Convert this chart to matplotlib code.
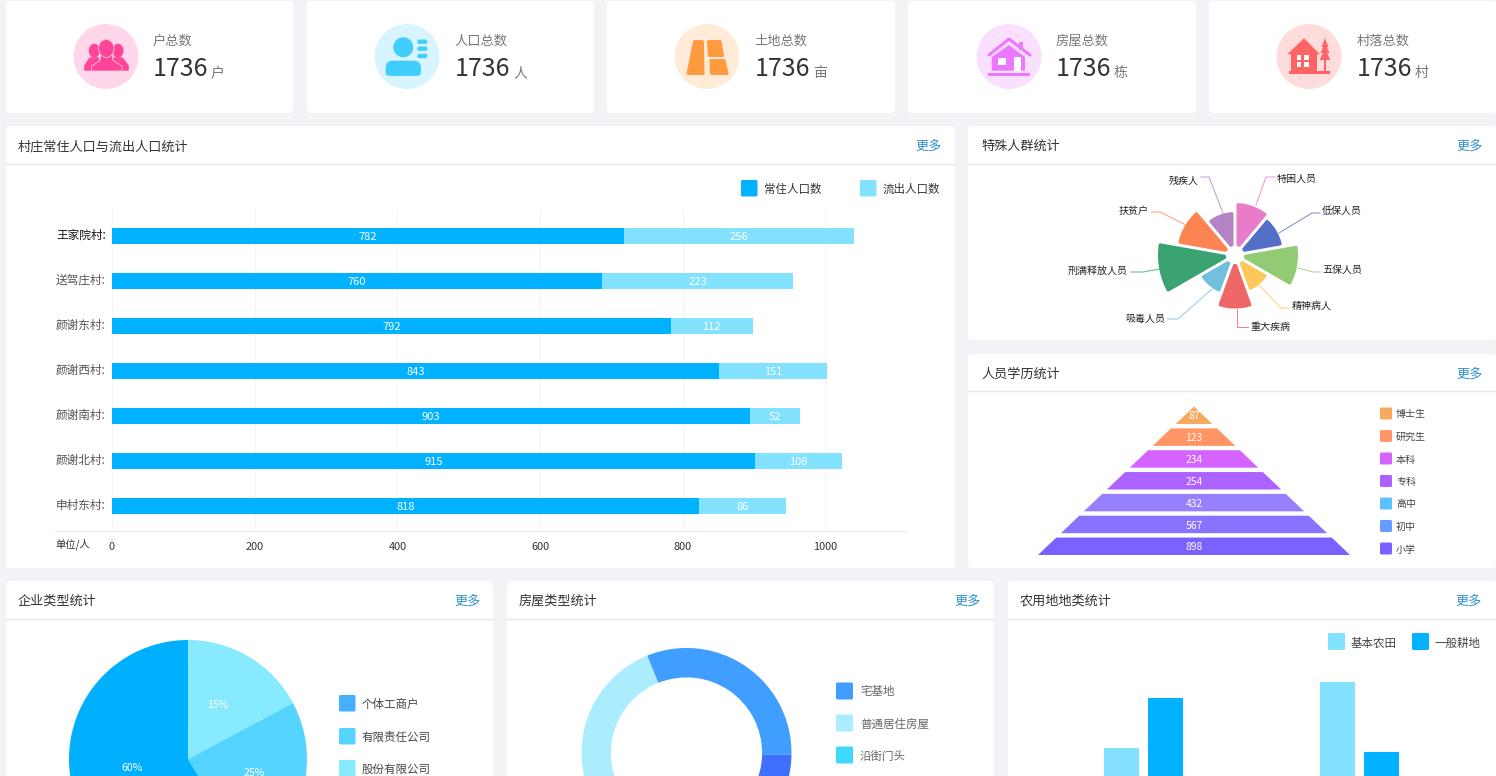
import numpy as np
import matplotlib
matplotlib.use("Agg")
import matplotlib.pyplot as plt
from matplotlib.patches import FancyBboxPatch, Ellipse, Polygon, Rectangle, Circle

plt.rcParams['font.family'] = ['Noto Sans CJK SC', 'DejaVu Sans']

W, H = 1496, 776
PX = 72 / 100  # points per pixel

# ---- data ----
kpi_labels = ['户总数', '人口总数', '土地总数', '房屋总数', '村落总数']
kpi_values = ['1736', '1736', '1736', '1736', '1736']
kpi_units = ['户', '人', '亩', '栋', '村']

villages = ['王家院村:', '送驾庄村:', '颜谢东村:', '颜谢西村:', '颜谢南村:', '颜谢北村:', '申村东村:']
resident_len = [718, 687, 783, 851, 894, 901, 823]
outflow_len = [322, 268, 115, 151, 70, 122, 122]
resident_text = ['782', '760', '792', '843', '903', '915', '818']
outflow_text = ['256', '223', '112', '151', '52', '108', '86']
bar_ticks = [0, 200, 400, 600, 800, 1000]

rose_names = ['特困人员', '低保人员', '五保人员', '精神病人', '重大疾病', '吸毒人员', '刑满释放人员', '扶贫户', '残疾人']
rose_values = [52, 48, 63, 38, 53.5, 40, 77, 58, 43]
rose_colors = ['#E87CC8', '#5470C6', '#91CC75', '#FCC85C', '#EE6666', '#73C0DE', '#3BA272', '#FC8452', '#B483C4']

edu_names = ['博士生', '研究生', '本科', '专科', '高中', '初中', '小学']
edu_values = [87, 123, 234, 254, 432, 567, 898]
edu_tier_colors = ['#F7A95F', '#FF9464', '#D463FF', '#AC62FF', '#9680FF', '#8872FF', '#7B61FF']
edu_legend_colors = ['#F7A95F', '#FF9464', '#D463FF', '#AC62FF', '#5CBFFF', '#649CFF', '#7862FF']

ent_names = ['个体工商户', '有限责任公司', '股份有限公司']
ent_values = [17.2, 24.2, 58.6]
ent_text = ['15%', '25%', '60%']
ent_colors = ['#87EAFF', '#55D4FF', '#00B0FF']
ent_legend_colors = ['#44B0FF', '#55D4FF', '#87EAFF']

house_names = ['宅基地', '普通居住房屋', '沿街门头']
house_values = [113, 55, 60, 132]
house_colors = ['#3F9EFF', '#3F6FFF', '#3FD8FF', '#ABECFF']
house_legend_colors = ['#3F9EFF', '#ABECFF', '#3FD8FF']

farm_names = ['基本农田', '一般耕地']
farm_basic = [88, 154]
farm_general = [138, 84]

# ---- figure and pixel overlay ----
fig = plt.figure(figsize=(W / 100, H / 100), dpi=100, facecolor='#F1F3F6')


def px_axes(x0, y0, x1, y1, **kw):
    return fig.add_axes([x0 / W, 1 - y1 / H, (x1 - x0) / W, (y1 - y0) / H], **kw)


ov = px_axes(0, 0, W, H)
ov.set_xlim(0, W)
ov.set_ylim(H, 0)
ov.axis('off')


def T(x, y, s, **kw):
    """Overlay text, nudged down 1px so the optical centre matches."""
    kw.setdefault('va', 'center')
    return ov.text(x, y + 1, s, **kw)


def card(x0, y0, x1, y1):
    ov.add_patch(FancyBboxPatch((x0 + 4, y0 + 4), x1 - x0 - 8, y1 - y0 - 8,
                                boxstyle='round,pad=4,rounding_size=4', fc='white', ec='none'))


def panel(x0, y0, x1, y1, header_y, title, tx, more_right):
    card(x0, y0, x1, y1)
    ov.plot([x0, x1], [header_y, header_y], color='#E6E8EB', lw=1.4 * PX)
    ty = (y0 + header_y) / 2 + 0.5
    T(tx, ty, title, fontsize=9.45, color='#333333', ha='left')
    T(more_right, ty, '更多', fontsize=9.45, color='#3090D0', ha='right')


def swatch(x, y, s, color):
    ov.add_patch(FancyBboxPatch((x + 1.5, y + 1.5), s - 3, s - 3,
                                boxstyle='round,pad=1.5,rounding_size=1.5', fc=color, ec='none'))


# ---- KPI cards ----
kpi_boxes = [(6, 293), (307, 594), (607, 895), (908, 1196), (1209, 1496)]
kpi_cx = [106, 407, 707, 1009, 1309]
kpi_tx = [153, 454, 754, 1056, 1357]
kpi_vx = [153, 455, 755, 1056, 1357]
kpi_ux = [211, 513, 813, 1114, 1415]
kpi_bg = ['#FFD6EA', '#D8F5FF', '#FFEBD8', '#FAE0FF', '#FFDCDC']
for (x0, x1), cx, tx, vx, ux, bg, lab, val, unit in zip(kpi_boxes, kpi_cx, kpi_tx, kpi_vx, kpi_ux, kpi_bg,
                                                        kpi_labels, kpi_values, kpi_units):
    card(x0, 1, x1, 113)
    ov.add_patch(Circle((cx, 56.5), 32.5, fc=bg, ec='none'))
    T(tx, 40.5, lab, fontsize=9.5, color='#777777')
    T(vx, 68.5, val, fontsize=18, color='#333333')
    T(ux, 72, unit, fontsize=10, color='#777777')

# icon 1: people
pink = '#FF4499'
for hx, pts in [(94.3, [(90, 58), (98, 58), (101, 70), (85, 70), (85, 65.5)]),
                (118, [(114, 58), (122, 58), (128, 65.5), (128, 70), (112, 70)])]:
    ov.add_patch(Ellipse((hx, 50.7), 11, 14, fc=pink, ec='none'))
    ov.add_patch(Polygon(pts, fc=pink, ec=pink, lw=1.5 * PX, joinstyle='round'))
ov.add_patch(Polygon([(100.5, 55), (112.5, 55), (113, 60.5), (122, 66), (122, 71), (91.5, 71), (91.5, 66), (100, 60.5)],
                     fc=pink, ec='#FFC4DE', lw=0.8 * PX, joinstyle='round'))
ov.add_patch(Ellipse((106.3, 48.5), 15.5, 18, fc=pink, ec='#FFC4DE', lw=0.8 * PX))

# icon 2: person with lines
blue = '#42CDFF'
ov.add_patch(Circle((403.3, 47.3), 10, fc=blue, ec='none'))
ov.add_patch(FancyBboxPatch((392.7, 67.7), 21.3, 1, boxstyle='round,pad=7,rounding_size=7', fc=blue, ec='none'))
ov.add_patch(FancyBboxPatch((388, 70), 30.5, 3.5, boxstyle='round,pad=2.2,rounding_size=2.2', fc=blue, ec='none'))
for ly in (41.7, 48.7, 56):
    ov.add_patch(FancyBboxPatch((419.3, ly - 0.2), 6, 0.4, boxstyle='round,pad=2,rounding_size=2', fc=blue, ec='none'))

# icon 3: land blocks
orange = '#FF9A3E'
for pts in ([(694.5, 41.5), (702.5, 41.5), (703, 73.5), (688, 73.5)],
            [(708.5, 41.5), (720, 41.5), (722.5, 55.5), (709.5, 55.5)],
            [(711, 60.5), (724, 60.5), (727, 73.5), (711.5, 73.5)]):
    ov.add_patch(Polygon(pts, fc=orange, ec=orange, lw=3 * PX, joinstyle='round'))

# icon 4: house
mag = '#EE77FF'
ov.add_patch(Polygon([(1009, 45), (1025, 57), (1025, 70.7), (991.7, 70.7), (991.7, 57)], fc=mag, ec='none'))
ov.plot([989, 1009, 1030], [55, 39, 55], color=mag, lw=3 * PX, solid_joinstyle='round', solid_capstyle='round')
ov.add_patch(Rectangle((1019.3, 41.7), 4, 8, fc=mag, ec='none'))
ov.add_patch(Rectangle((997.7, 58.3), 8, 6.7, fc='white', ec='none'))
ov.add_patch(Rectangle((1014.3, 57.3), 6.4, 13.4, fc='white', ec='none'))
ov.add_patch(Rectangle((988.3, 73), 41.7, 3, fc=mag, ec='none'))

# icon 5: village house and tree
red = '#FF6366'
ov.add_patch(Polygon([(1304, 38.3), (1320, 54.3), (1287.3, 54.3)], fc=red, ec='none'))
ov.add_patch(Rectangle((1290.7, 54), 26, 16.5, fc=red, ec='none'))
for wx in (1296.7, 1304.3):
    for wy in (55.2, 61.7):
        ov.add_patch(Rectangle((wx, wy), 4.8, 5, fc='white', ec='none'))
ov.add_patch(Rectangle((1289.3, 71), 40.7, 3.4, fc=red, ec='none'))
for ytop, ybot, hw in [(38.3, 47, 3.5), (43, 53, 4.5), (49, 60, 5.4)]:
    ov.add_patch(Polygon([(1325, ytop), (1325 + hw, ybot), (1325 - hw, ybot)], fc=red, ec='none'))
ov.add_patch(Rectangle((1324, 58), 2, 14, fc=red, ec='none'))

# ---- panels ----
panel(6, 126, 955, 568, 164, '村庄常住人口与流出人口统计', 18, 942)
panel(968, 126, 1496, 340, 164, '特殊人群统计', 981, 1483)
panel(968, 354, 1496, 568, 391, '人员学历统计', 981, 1483)
panel(6, 581, 493, 800, 619, '企业类型统计', 18, 481)
panel(507, 581, 994, 800, 619, '房屋类型统计', 519, 981)
panel(1008, 581, 1496, 800, 619, '农用地地类统计', 1020, 1482)

# ---- stacked bars ----
ax = px_axes(112, 209, 905, 531)
ax.patch.set_alpha(0)
scale = 0.7135
ax.set_xlim(0, (905 - 112) / scale)
ax.set_ylim((531 - 235.5) / 45, (209 - 235.5) / 45)
ypos = np.arange(len(villages))
c1 = ax.barh(ypos, resident_len, height=16 / 45, color='#00B2FF')
c2 = ax.barh(ypos, outflow_len, left=resident_len, height=16 / 45, color='#83E2FF')
for t in ax.bar_label(c1, labels=resident_text, label_type='center', color='white', fontsize=8):
    t.xyann = (0, -0.9)
for t in ax.bar_label(c2, labels=outflow_text, label_type='center', color='white', fontsize=8):
    t.xyann = (0, -0.9)
ax.set_xticks(bar_ticks)
ax.set_yticks(ypos)
ax.set_yticklabels(villages, fontsize=8.4, color='#555555', va='center')
ax.get_yticklabels()[0].set_color('#111111')
ax.tick_params(axis='y', length=0, pad=4.5)
ax.tick_params(axis='x', length=0, pad=7.7, labelsize=7.9, labelcolor='#333333')
ax.grid(axis='x', color='#F2F3F5', lw=1 * PX)
ax.set_axisbelow(True)
for s in ax.spines.values():
    s.set_visible(False)
ov.plot([55, 905], [531, 531], color='#E8EAED', lw=1.2 * PX)
T(55, 543.5, '单位/人', fontsize=7.4, color='#333333')
swatch(741, 180, 16.5, '#00B2FF')
T(764, 188.5, '常住人口数', fontsize=8.3, color='#333333')
swatch(860, 180, 16.5, '#83E2FF')
T(883, 188.5, '流出人口数', fontsize=8.3, color='#333333')

# ---- rose ----
rx = px_axes(1235 - 90, 255 - 90, 1235 + 90, 255 + 90, projection='polar')
rx.set_theta_zero_location('N')
rx.set_theta_direction(-1)
rx.set_ylim(0, 90)
rx.axis('off')
step = 2 * np.pi / len(rose_values)
for i, (val, col) in enumerate(zip(rose_values, rose_colors)):
    t0, t1 = i * step, (i + 1) * step
    R = val - 1.5
    g = 3.0
    rs = np.linspace(10.5, R, 30)
    ang = np.concatenate([t0 + np.arcsin(g / rs),
                          np.linspace(t0 + np.arcsin(g / R), t1 - np.arcsin(g / R), 30),
                          (t1 - np.arcsin(g / rs))[::-1]])
    rad = np.concatenate([rs, np.full(30, R), rs[::-1]])
    rx.fill(ang, rad, facecolor=col, edgecolor=col, lw=3 * PX, joinstyle='round')

rose_lines = [([1256, 1266, 1275], [205, 177, 177]), ([1279, 1312, 1320], [233, 213, 213]),
              ([1298, 1313, 1321], [268, 272, 272]), ([1257, 1281, 1289], [283, 308, 308]),
              ([1237, 1237, 1248], [309, 327, 327]), ([1212, 1178, 1168], [289, 319, 319]),
              ([1160, 1143, 1131], [269, 272, 272]), ([1186, 1160, 1151], [225, 212, 212]),
              ([1223, 1209, 1201], [213, 177, 177])]
rose_txt = [(1277, 178, 'left'), (1321.5, 210, 'left'), (1322, 269, 'left'), (1291.5, 305, 'left'),
            (1250.5, 326, 'left'), (1165, 318, 'right'), (1128, 270, 'right'), (1149, 210, 'right'),
            (1199, 180, 'right')]
for (lx, ly), (tx, ty, ha), name, col in zip(rose_lines, rose_txt, rose_names, rose_colors):
    ov.plot(lx, ly, color=col, lw=1 * PX, alpha=0.8)
    T(tx, ty, name, fontsize=7.2, color='#222222', ha=ha)

# ---- pyramid ----
fx = px_axes(1194 - 160, 402.2, 1194 + 160, 555)
fx.set_xlim(-160, 160)
fx.set_ylim(len(edu_values), 0)
fx.axis('off')
slope = 22.95
for i, (val, col) in enumerate(zip(edu_values, edu_tier_colors)):
    top, bot = i + 0.2, i + 1
    wt, wb = (top - 0.2) * slope, (bot - 0.2) * slope
    fx.add_patch(Polygon([(-wt, top), (wt, top), (wb, bot), (-wb, bot)], fc=col, ec='none'))
    fx.text(0, (top + bot) / 2 + 0.05, str(val), fontsize=7.4, color='white', ha='center', va='center')
edu_ly = [413.5, 436, 458.5, 481, 503.5, 526, 548.5]
for y, name, col in zip(edu_ly, edu_names, edu_legend_colors):
    swatch(1380, y - 6, 12, col)
    T(1396, y, name, fontsize=7.2, color='#444444')

# ---- enterprise pie ----
px_ = px_axes(188 - 119, 759 - 119, 188 + 119, 759 + 119)
_, ent_labels = px_.pie(ent_values, colors=ent_colors, startangle=90, counterclock=False, radius=1,
                        labels=ent_text, labeldistance=0.53,
                        textprops=dict(color='white', fontsize=7.6, ha='center', va='center'),
                        wedgeprops=dict(lw=0))
px_.set_xlim(-1, 1)
px_.set_ylim(-1, 1)
for t, pos in zip(ent_labels, [(0.252, 0.454), (0.555, -0.118), (-0.47, -0.076)]):
    t.set_position(pos)
for y, name, col in zip([703, 736, 768], ent_names, ent_legend_colors):
    swatch(339, y - 8, 16.5, col)
    T(362, y + 0.5, name, fontsize=8.3, color='#444444')

# ---- house donut ----
dx = px_axes(686.5 - 105, 753 - 105, 686.5 + 105, 753 + 105)
dx.pie(house_values, colors=house_colors, startangle=112, counterclock=False, radius=1,
       wedgeprops=dict(width=0.28, lw=0))
dx.set_xlim(-1, 1)
dx.set_ylim(-1, 1)
for y, name, col in zip([691, 723, 755], house_names, house_legend_colors):
    swatch(836, y - 8.5, 17, col)
    T(860, y, name, fontsize=8.3, color='#666666')

# ---- farmland bars ----
bx = px_axes(1015, 640, 1488, 836)
bx.patch.set_alpha(0)
bx.set_xlim(-0.595, 1.595)
bx.set_ylim(0, 196)
xg = np.arange(len(farm_basic))
bx.bar(xg - 22 / 216, farm_basic, width=35 / 216, color='#83E2FF')
bx.bar(xg + 22 / 216, farm_general, width=35 / 216, color='#00B2FF')
bx.axis('off')
swatch(1328, 633, 17, '#83E2FF')
T(1351, 642.5, farm_names[0], fontsize=8.3, color='#444444')
swatch(1412, 633, 17, '#00B2FF')
T(1435, 642.5, farm_names[1], fontsize=8.3, color='#444444')

fig.savefig('out.png', dpi=100, facecolor=fig.get_facecolor())
